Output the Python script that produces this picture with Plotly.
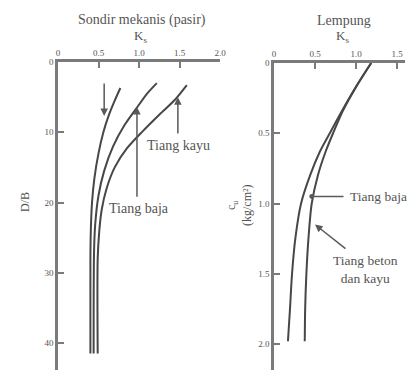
import plotly.graph_objects as go

# ---------------- data ----------------
# Left panel: sand (Sondir mekanis), Ks vs D/B
sand_A_K = [0.77, 0.70, 0.63, 0.56, 0.50, 0.45, 0.42, 0.405, 0.40, 0.40]
sand_A_DB = [3.7, 5.5, 7.5, 10, 13, 16.5, 20, 24, 28, 41.5]
sand_B_K = [1.22, 1.10, 0.98, 0.82, 0.68, 0.57, 0.50, 0.46, 0.445, 0.44]
sand_B_DB = [3.0, 4.5, 6.4, 9, 12, 15.5, 19, 23, 27, 41.5]
sand_C_K = [1.59, 1.45, 1.25, 1.05, 0.85, 0.70, 0.60, 0.54, 0.51, 0.49, 0.49]
sand_C_DB = [3.3, 5.3, 7.5, 9.8, 12.3, 15, 18, 21, 24, 28, 41.5]

# Right panel: clay (Lempung), Ks vs cu
clay_cu = [0, 0.17, 0.34, 0.5, 0.63, 0.8, 1.0, 1.25, 1.5, 1.75, 1.98]
clay_lower_K = [1.185, 1.0, 0.83, 0.68, 0.56, 0.44, 0.33, 0.26, 0.22, 0.195, 0.17]
clay_upper_K = [1.185, 1.0, 0.84, 0.72, 0.63, 0.535, 0.46, 0.42, 0.395, 0.38, 0.375]

sand_xticks = [0, 0.5, 1.0, 1.5, 2.0]
sand_xticktext = ["0", "0.5", "1.0", "1.5", "2.0"]
sand_yticks = [0, 10, 20, 30, 40]
sand_yticktext = ["0", "10", "20", "30", "40"]
clay_xticks = [0, 0.5, 1.0, 1.5]
clay_xticktext = ["0", "0.5", "1.0", "1.5"]
clay_yticks = [0, 0.5, 1.0, 1.5, 2.0]
clay_yticktext = ["0", "0.5", "1.0", "1.5", "2.0"]

# ---------------- layout helpers ----------------
W, H = 412, 371
def px(x):
    return x / W
def py(y):
    return 1 - y / H

FONT = "Liberation Serif"
TXT = "#555555"
LINE = "#474747"
AX = "#7a7a7a"

fig = go.Figure()
for k, d in [(sand_A_K, sand_A_DB), (sand_B_K, sand_B_DB), (sand_C_K, sand_C_DB)]:
    fig.add_trace(go.Scatter(x=k, y=d, mode="lines", xaxis="x", yaxis="y",
                             line=dict(color=LINE, width=2, shape="spline", smoothing=0.8),
                             hoverinfo="skip"))
for k in [clay_lower_K, clay_upper_K]:
    fig.add_trace(go.Scatter(x=k, y=clay_cu, mode="lines", xaxis="x2", yaxis="y2",
                             line=dict(color=LINE, width=2, shape="spline", smoothing=0.8),
                             hoverinfo="skip"))

axis_common = dict(showgrid=False, zeroline=False, showline=True, linecolor=AX, linewidth=2.5,
                   ticks="inside", ticklen=6, tickwidth=1.5, tickcolor=AX, automargin=False,
                   tickfont=dict(family=FONT, size=9, color=TXT), fixedrange=True)

fig.update_layout(
    width=W, height=H, margin=dict(l=0, r=0, t=0, b=0, autoexpand=False),
    paper_bgcolor="white", plot_bgcolor="white", showlegend=False,
    xaxis=dict(domain=[px(58), px(220)], range=[0, 2.0], side="top", anchor="y",
               tickmode="array", tickvals=sand_xticks, ticktext=sand_xticktext, **axis_common),
    yaxis=dict(domain=[py(370), py(62)], range=[(370 - 62) / 7.025, 0], anchor="x",
               tickmode="array", tickvals=sand_yticks, ticktext=sand_yticktext, **axis_common),
    xaxis2=dict(domain=[px(274), px(405)], range=[0, (405 - 274) / 82.0], side="top", anchor="y2",
                tickmode="array", tickvals=clay_xticks, ticktext=clay_xticktext, **axis_common),
    yaxis2=dict(domain=[py(370), py(63)], range=[(370 - 63) / 140.5, 0], anchor="x2",
                tickmode="array", tickvals=clay_yticks, ticktext=clay_yticktext, **axis_common),
)

anns = []
def text(x, y, t, size=14, angle=0, xref="paper", yref="paper", xanchor="center"):
    anns.append(dict(x=x, y=y, xref=xref, yref=yref, text=t, showarrow=False,
                     textangle=angle, xanchor=xanchor, yanchor="middle",
                     font=dict(family=FONT, size=size, color=TXT)))

# titles
text(px(142), py(20), "Sondir mekanis (pasir)", 14)
text(px(140), py(36), "K<sub>s</sub>", 13)
text(px(344), py(21), "Lempung", 14)
text(px(342), py(37), "K<sub>s</sub>", 13)
text(px(25), py(202), "D/B", 12, angle=-90)
text(px(239), py(205), "c<sub>u</sub><br>(kg/cm²)", 12, angle=-90)

# left panel labels
text(1.0, 20.9, "Tiang baja", 14, xref="x", yref="y")
text(1.49, 11.9, "Tiang kayu", 14, xref="x", yref="y")
# right panel labels
text(0.90, 0.95, "Tiang baja", 13.5, xref="x2", yref="y2", xanchor="left")
text(1.12, 1.47, "Tiang beton<br>dan kayu", 13.5, xref="x2", yref="y2")

def arrow(x, y, ax, ay, xr, yr, head=2, size=1.0):
    anns.append(dict(x=x, y=y, ax=ax, ay=ay, xref=xr, yref=yr, axref=xr, ayref=yr,
                     showarrow=True, arrowhead=head, arrowsize=size, arrowwidth=1.5,
                     arrowcolor="#5a5a5a", text=""))

arrow(0.57, 7.7, 0.57, 2.85, "x", "y")
arrow(0.975, 6.4, 0.975, 19.4, "x", "y")
arrow(1.48, 5.0, 1.48, 10.4, "x", "y")
arrow(0.46, 0.95, 0.866, 0.95, "x2", "y2", head=6, size=0.8)
arrow(0.50, 1.15, 0.89, 1.33, "x2", "y2")

fig.update_layout(annotations=anns)
fig.write_html("out.html", config={"displayModeBar": False},
               post_script="document.body.style.margin='0';document.body.style.overflow='hidden';")
